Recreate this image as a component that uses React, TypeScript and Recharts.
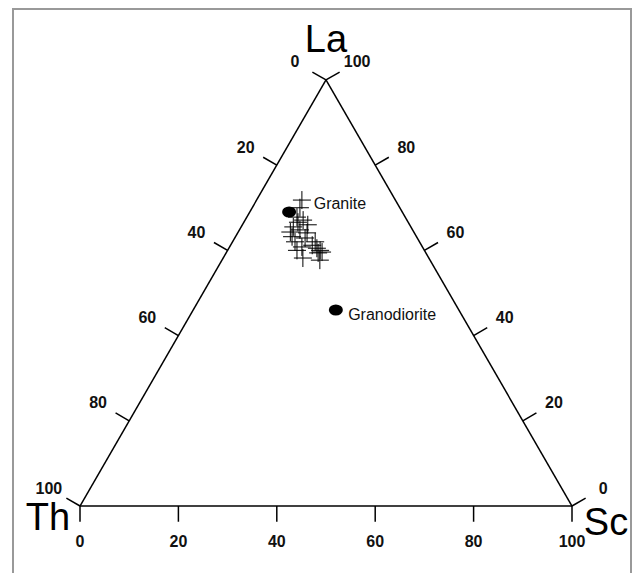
import React from "react";
import { ScatterChart, Scatter, XAxis, YAxis, ReferenceLine } from "recharts";

// sample compositions (%)
const sampleLa = [71.8, 70.0, 67.8, 67.1, 65.5, 64.3, 64.8, 66.0, 64.1, 62.0, 60.8, 61.2, 60.5, 59.4, 59.6, 57.7, 58.2, 63.2, 62.0, 66.6, 62.9, 60.0, 60.0];
const sampleTh = [19.0, 20.3, 22.0, 21.1, 23.9, 25.1, 22.9, 20.7, 21.8, 25.3, 24.5, 22.2, 21.6, 21.9, 21.0, 22.4, 25.6, 25.3, 21.2, 22.4, 22.8, 21.2, 25.9];
const sampleSc = [9.2, 9.7, 10.2, 11.8, 10.6, 10.6, 12.3, 13.3, 14.1, 12.7, 14.7, 16.6, 17.9, 18.7, 19.4, 19.9, 16.2, 11.5, 16.8, 11.0, 14.3, 18.8, 14.1];

// reference rocks
const refNames = ["Granite", "Granodiorite"];
const refLa = [69, 46];
const refTh = [23, 25];
const refSc = [8, 29];
// where their names sit
const refLabelLa = [71, 45];
const refLabelTh = [17, 23];
const refLabelSc = [12, 32];

const tickValues = [0, 20, 40, 60, 80, 100];

const W = 632;
const H = 573;
const S = 4.92; // px per unit
const X0 = 80;
const Y0 = 506;
const R3 = Math.sqrt(3) / 2;
const TICK_LEN = 3.2;
const LABEL_OFF = 7.3;
const FONT = "'Liberation Sans', Arial, sans-serif";

// no page margin, everything placed in page pixels
document.body.style.margin = "0";
document.body.style.overflow = "hidden";

// ternary -> cartesian (Th bottom-left, Sc bottom-right, La top)
const toXY = (la: number, th: number, sc: number) => {
  const t = la + th + sc;
  const L = (la / t) * 100;
  const C = (sc / t) * 100;
  return { x: C + L / 2, y: L * R3 };
};

const axes = [
  { name: "Th", point: (v: number) => toXY(100 - v, v, 0), n: [-R3, 0.5] },
  { name: "La", point: (v: number) => toXY(v, 0, 100 - v), n: [R3, 0.5] },
  { name: "Sc", point: (v: number) => toXY(0, 100 - v, v), n: [0, -1] },
];

const vTh = toXY(0, 100, 0);
const vSc = toXY(0, 0, 100);
const vLa = toXY(100, 0, 0);
const vertexLabels = [
  { ...vLa, label: "La", dx: 0, dy: -28 },
  { ...vTh, label: "Th", dx: -32, dy: 24 },
  { ...vSc, label: "Sc", dx: 34, dy: 29 },
];

const samples = sampleLa.map((la, i) => toXY(la, sampleTh[i], sampleSc[i]));
const refs = refNames.map((name, i) => ({ ...toXY(refLa[i], refTh[i], refSc[i]), name }));
const refLabels = refNames.map((name, i) => ({
  ...toXY(refLabelLa[i], refLabelTh[i], refLabelSc[i]),
  label: name,
}));

const ticks: { a: { x: number; y: number }; b: { x: number; y: number } }[] = [];
const tickLabels: { x: number; y: number; label: string }[] = [];
axes.forEach((ax) => {
  tickValues.forEach((v) => {
    const p = ax.point(v);
    ticks.push({ a: p, b: { x: p.x + ax.n[0] * TICK_LEN, y: p.y + ax.n[1] * TICK_LEN } });
    tickLabels.push({ x: p.x + ax.n[0] * LABEL_OFF, y: p.y + ax.n[1] * LABEL_OFF, label: String(v) });
  });
});

const Cross = (p: any) => (
  <g stroke="#000" strokeWidth={1}>
    <line x1={p.cx - 9} y1={p.cy} x2={p.cx + 9} y2={p.cy} />
    <line x1={p.cx} y1={p.cy - 9} x2={p.cx} y2={p.cy + 9} />
  </g>
);

const Dot = (p: any) => <ellipse cx={p.cx} cy={p.cy} rx={7} ry={5.5} fill="#000" />;

const TickText = (p: any) => (
  <text x={p.cx} y={p.cy} textAnchor="middle" dominantBaseline="central" fontFamily={FONT} fontSize={16} fontWeight="bold" fill="#111">
    {p.payload.label}
  </text>
);

const RefText = (p: any) => (
  <text x={p.cx} y={p.cy} textAnchor="start" dominantBaseline="central" fontFamily={FONT} fontSize={16} fill="#111">
    {p.payload.label}
  </text>
);

const VertexText = (p: any) => (
  <text x={p.cx + p.payload.dx} y={p.cy + p.payload.dy} textAnchor="middle" fontFamily={FONT} fontSize={38} fill="#000">
    {p.payload.label}
  </text>
);

const edges = [
  [vTh, vSc],
  [vTh, vLa],
  [vSc, vLa],
];

export default function App() {
  return (
    <div style={{ position: "relative", width: W, height: H, overflow: "hidden" }}>
      <div
        style={{
          position: "absolute",
          left: 12,
          top: 8,
          width: 620,
          height: 700,
          border: "2px solid #999",
          boxSizing: "border-box",
        }}
      />
      <div style={{ position: "absolute", left: 0, top: 0 }}>
        <ScatterChart width={W} height={H} margin={{ top: 0, right: 0, bottom: 0, left: 0 }}>
          <XAxis type="number" dataKey="x" hide domain={[-X0 / S, (W - X0) / S]} allowDataOverflow />
          <YAxis type="number" dataKey="y" hide domain={[-(H - Y0) / S, Y0 / S]} allowDataOverflow />
          {edges.map((e, i) => (
            <ReferenceLine key={"e" + i} segment={e} stroke="#000" strokeWidth={1.5} ifOverflow="visible" />
          ))}
          {ticks.map((t, i) => (
            <ReferenceLine key={"t" + i} segment={[t.a, t.b]} stroke="#000" strokeWidth={1.5} ifOverflow="visible" />
          ))}
          <Scatter data={tickLabels} shape={TickText} isAnimationActive={false} />
          <Scatter data={vertexLabels} shape={VertexText} isAnimationActive={false} />
          <Scatter data={samples} shape={Cross} isAnimationActive={false} />
          <Scatter data={refs} shape={Dot} isAnimationActive={false} />
          <Scatter data={refLabels} shape={RefText} isAnimationActive={false} />
        </ScatterChart>
      </div>
    </div>
  );
}
